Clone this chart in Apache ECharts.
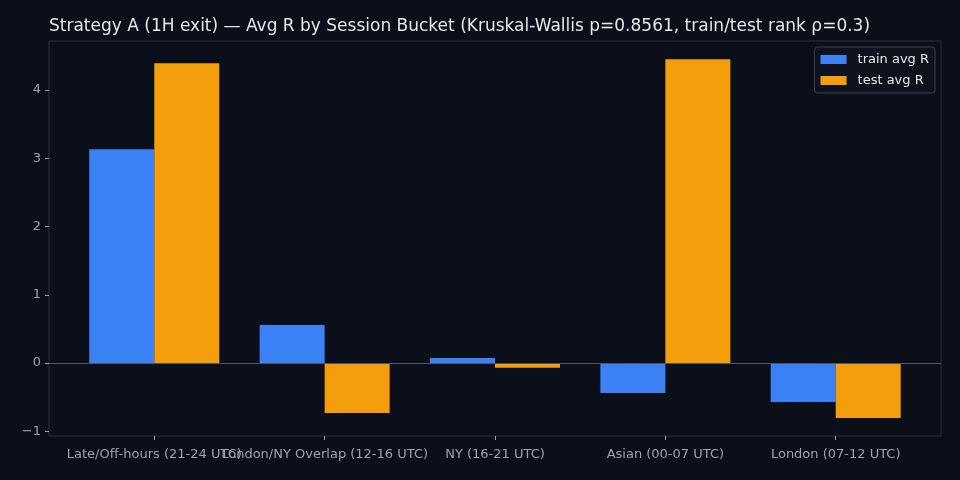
<!DOCTYPE html>
<html><head><meta charset="utf-8">
<script src="https://cdn.jsdelivr.net/npm/echarts@6/dist/echarts.min.js"></script>
<style>html,body{margin:0;padding:0;background:#0b0f19;}#c{width:960px;height:480px;}</style>
</head><body><div id="c"></div>
<script>
const categories = ["Late/Off-hours (21-24 UTC)", "London/NY Overlap (12-16 UTC)", "NY (16-21 UTC)", "Asian (00-07 UTC)", "London (07-12 UTC)"];
const trainAvgR = [3.135, 0.557, 0.073, -0.44, -0.571];
const testAvgR = [4.395, -0.733, -0.07, 4.454, -0.806];
const yTicks = [-1, 0, 1, 2, 3, 4];
const xPos = [0, 1, 2, 3, 4];

const X_MIN = -0.618, X_MAX = 4.618;
const GL = 49, GR = 19;
const pxPerUnit = (960 - GL - GR) / (X_MAX - X_MIN);
const catLeft = GL + (-0.5 - X_MIN) * pxPerUnit;
const catRight = 960 - (GL + (4.5 - X_MIN) * pxPerUnit);

const chart = echarts.init(document.getElementById('c'));
const font = 'DejaVu Sans';
chart.setOption({
  backgroundColor: '#0b0f19',
  animation: false,
  textStyle: { fontFamily: font },
  title: {
    text: 'Strategy A (1H exit) — Avg R by Session Bucket (Kruskal-Wallis p=0.8561, train/test rank ρ=0.3)',
    left: 44, top: 13,
    textStyle: { color: '#e5e7eb', fontSize: 17, fontWeight: 'normal', fontFamily: font }
  },
  legend: {
    orient: 'vertical', right: 25, top: 47,
    backgroundColor: '#0d121c', borderColor: '#3a4150', borderWidth: 1, borderRadius: 3,
    padding: [5, 6, 5, 6], itemWidth: 26, itemHeight: 9, itemGap: 6, icon: 'rect',
    textStyle: { color: '#e5e7eb', fontSize: 13, lineHeight: 15, padding: [0, 0, 0, 6], fontFamily: font },
    data: ['train avg R', 'test avg R']
  },
  grid: [
    { left: GL, right: GR, top: 41, bottom: 44, show: true, borderColor: '#2a3140', borderWidth: 1, backgroundColor: '#0b0f19' },
    { left: catLeft, right: catRight, top: 41, bottom: 44, show: false }
  ],
  xAxis: [
    {
      gridIndex: 0, type: 'value', min: X_MIN, max: X_MAX,
      axisLine: { show: false, onZero: false },
      splitLine: { show: false }, axisTick: { show: false }, axisLabel: { show: false }
    },
    {
      gridIndex: 1, type: 'category', data: categories, boundaryGap: true,
      axisLine: { show: false, onZero: false },
      splitLine: { show: false },
      axisTick: { show: true, length: 4, alignWithLabel: true, interval: 0, lineStyle: { color: '#9ca3af' } },
      axisLabel: { color: '#9ca3af', fontSize: 13, margin: 12, interval: 0, hideOverlap: false }
    }
  ],
  yAxis: [
    {
      gridIndex: 0, type: 'value', min: -1.07, max: 4.72,
      axisLine: { show: false, onZero: false },
      splitLine: { show: false },
      axisTick: { show: true, length: 4, lineStyle: { color: '#9ca3af' }, customValues: yTicks },
      axisLabel: { color: '#9ca3af', fontSize: 13, margin: 8, hideOverlap: false, customValues: yTicks, formatter: v => v < 0 ? '−' + Math.abs(v) : String(v) }
    },
    { gridIndex: 1, type: 'value', show: false, min: -1.07, max: 4.72 }
  ],
  series: [
    {
      name: 'train avg R', type: 'bar', xAxisIndex: 0, yAxisIndex: 0, barWidth: 65, barGap: '0%',
      itemStyle: { color: '#3b82f6' },
      data: trainAvgR.map((v, i) => [xPos[i], v]),
      markLine: { silent: true, symbol: 'none', label: { show: false }, lineStyle: { color: '#4b5563', width: 1, type: 'solid' }, data: [{ yAxis: 0 }] }
    },
    {
      name: 'test avg R', type: 'bar', xAxisIndex: 0, yAxisIndex: 0, barWidth: 65, barGap: '0%',
      itemStyle: { color: '#f59e0b' },
      data: testAvgR.map((v, i) => [xPos[i], v])
    }
  ]
});
</script></body></html>
